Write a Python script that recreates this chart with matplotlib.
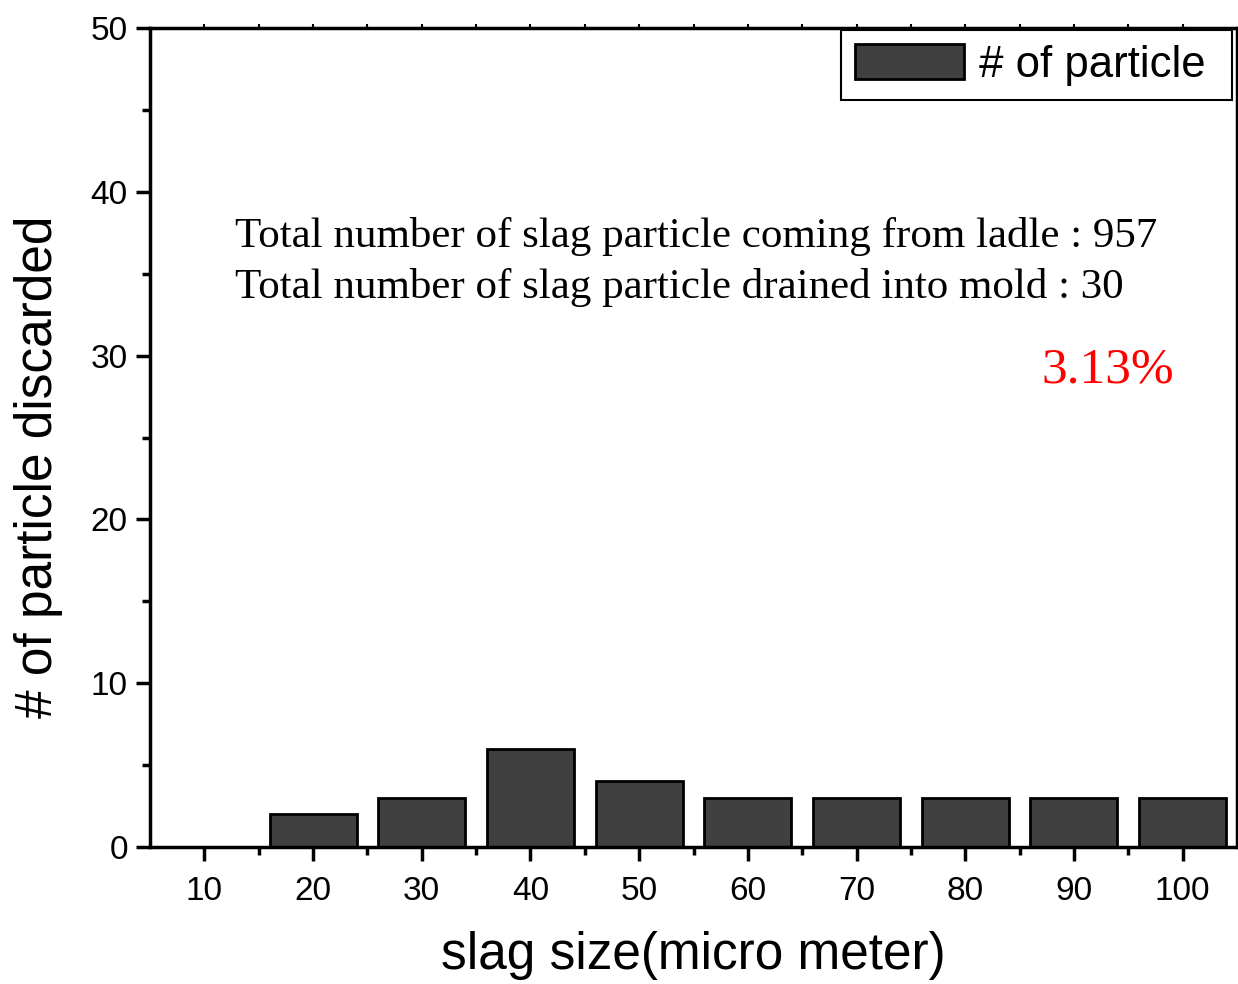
import numpy as np
from matplotlib import pyplot as plt
from matplotlib.ticker import MultipleLocator

size = [10, 20, 30, 40, 50, 60, 70, 80, 90, 100]  # slag size (micro meter)
count = [0, 2, 3, 6, 4, 3, 3, 3, 3, 3]  # particles drained into mold

n_ladle = 957
n_mold = 30

plt.rcParams['font.family'] = ['Liberation Sans', 'DejaVu Sans']

fig = plt.figure(figsize=(12.38, 9.84), dpi=100)
ax = fig.add_axes([150/1238, 1 - 847/984, 1087/1238, 819/984])

ax.bar(size, count, width=8, color='#404040', edgecolor='black', linewidth=2,
       label='# of particle ')

ax.set_xlim(5, 105)
ax.set_ylim(0, 50)
ax.set_xticks(size)
ax.set_xticks(np.arange(15, 105, 10), minor=True)
ax.yaxis.set_major_locator(MultipleLocator(10))
ax.yaxis.set_minor_locator(MultipleLocator(5))

ax.tick_params(which='major', direction='out', length=10, width=2.5, labelsize=24)
ax.tick_params(axis='x', which='major', pad=11)
ax.tick_params(axis='y', which='major', pad=6)
ax.tick_params(which='minor', direction='out', length=6, width=2.5)
for sp in ax.spines.values():
    sp.set_linewidth(2.5)

# short ticks on the top frame
top = ax.secondary_xaxis('top')
top.set_xticks(size)
top.set_xticks(np.arange(15, 105, 10), minor=True)
top.tick_params(which='both', direction='out', length=3, width=1.5, labeltop=False)
top.spines['top'].set_visible(False)

ax.set_xlabel('slag size(micro meter)', fontsize=37, labelpad=17)
ax.set_ylabel('# of particle discarded', fontsize=37)
ax.yaxis.set_label_coords(-0.080, 0.464)

ax.text(0.078, 0.746, f'Total number of slag particle coming from ladle : {n_ladle}',
        transform=ax.transAxes, family='Liberation Serif', fontsize=31, va='center')
ax.text(0.078, 0.683, f'Total number of slag particle drained into mold : {n_mold}',
        transform=ax.transAxes, family='Liberation Serif', fontsize=31, va='center')
ax.text(0.942, 0.582, f'{100 * n_mold / n_ladle:.2f}%', transform=ax.transAxes,
        family='Liberation Serif', fontsize=37, color='red', ha='right', va='center')

leg = ax.legend(loc='upper left', bbox_to_anchor=((841 - 150) / 1087, 1 - 2 / 819),
                fontsize=31.5, fancybox=False, edgecolor='black', framealpha=1,
                handlelength=2.5, handleheight=0.85, handletextpad=0.33,
                borderaxespad=0, borderpad=0.32)
leg.get_frame().set_linewidth(1.5)

fig.savefig('out.png', dpi=100)
